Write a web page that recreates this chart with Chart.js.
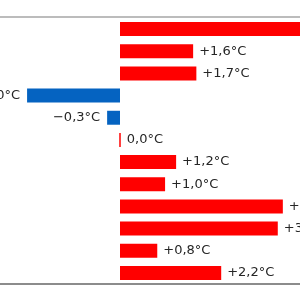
<!DOCTYPE html>
<html>
<head>
<meta charset="utf-8">
<script src="https://cdn.jsdelivr.net/npm/chart.js@4/dist/chart.umd.min.js"></script>
<style>
  html, body { margin: 0; padding: 0; width: 300px; height: 300px; overflow: hidden; background: #fff; }
  #wrap { position: absolute; left: -18px; top: 0; width: 368px; height: 300px; }
</style>
</head>
<body>
<div id="wrap"><canvas id="chart"></canvas></div>
<script>
// Abweichung vom Mittel je Monat (°C)
const months = ['Januar', 'Februar', 'März', 'April', 'Mai', 'Juni',
                'Juli', 'August', 'September', 'Oktober', 'November', 'Dezember'];
const deviation = [4.3, 1.59, 1.66, -2.02, -0.28, 0.0, 1.22, 0.98, 3.54, 3.43, 0.81, 2.2];
const axisMin = -3;
const axisMax = 5;

const barColors = deviation.map(v => v < 0 ? '#0563c1' : '#ff0000');

function formatDev(v) {
    const r = Math.round(v * 10) / 10;
    let s = Math.abs(r).toFixed(1).replace('.', ',') + '°C';
    if (r > 0) s = '+' + s;
    else if (r < 0) s = '\u2212' + s;
    return s;
}

// Linien oben/unten und Werte neben den Balken
const decor = {
    id: 'decor',
    afterDatasetsDraw(chart) {
        const ctx = chart.ctx;
        const area = chart.chartArea;
        ctx.save();
        ctx.lineWidth = 1.5;
        ctx.strokeStyle = '#a6a6a6';
        ctx.beginPath();
        ctx.moveTo(0, area.top - 1);
        ctx.lineTo(chart.width, area.top - 1);
        ctx.stroke();
        ctx.strokeStyle = '#666666';
        ctx.beginPath();
        ctx.moveTo(0, area.bottom);
        ctx.lineTo(chart.width, area.bottom);
        ctx.stroke();

        ctx.font = '13px "DejaVu Sans"';
        ctx.fillStyle = '#262626';
        ctx.textBaseline = 'middle';
        const meta = chart.getDatasetMeta(0);
        meta.data.forEach((bar, i) => {
            const v = deviation[i];
            if (v < 0) {
                ctx.textAlign = 'right';
                ctx.fillText(formatDev(v), bar.x - 7, bar.y);
            } else {
                ctx.textAlign = 'left';
                ctx.fillText(formatDev(v), Math.max(bar.x, bar.base) + 6, bar.y);
            }
        });
        ctx.restore();
    }
};

new Chart(document.getElementById('chart'), {
    type: 'bar',
    data: {
        labels: months,
        datasets: [{
            data: deviation,
            backgroundColor: barColors,
            barPercentage: 0.63,
            categoryPercentage: 1.0,
            minBarLength: 1.5
        }]
    },
    options: {
        indexAxis: 'y',
        responsive: true,
        maintainAspectRatio: false,
        animation: false,
        layout: { padding: { top: 18, bottom: 16, left: 0, right: 0 } },
        plugins: { legend: { display: false }, tooltip: { enabled: false } },
        scales: {
            x: { display: false, min: axisMin, max: axisMax },
            y: { display: false }
        }
    },
    plugins: [decor]
});
</script>
</body>
</html>
